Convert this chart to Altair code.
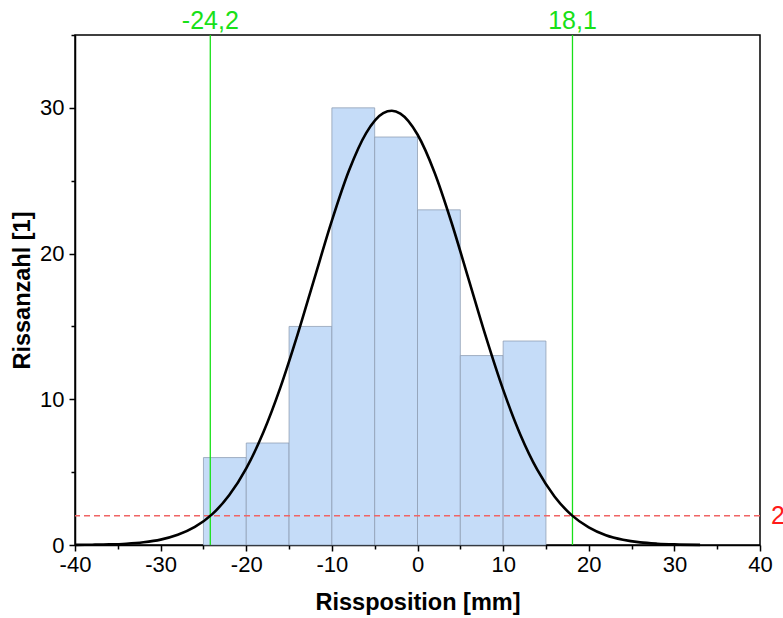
import altair as alt
import pandas as pd

# Histogram bins (start, end) and counts
bin_start = [-25, -20, -15, -10, -5, 0, 5, 10]
bin_end = [-20, -15, -10, -5, 0, 5, 10, 15]
counts = [6, 7, 15, 30, 28, 23, 13, 14]

# Fitted curve
curve_x = [-40, -38, -36, -34, -32, -30, -28, -26, -24, -22, -20, -18, -16, -14,
           -12, -10, -8, -6, -4, -3, -2, 0, 2, 4, 6, 8, 10, 12, 14, 16, 18, 20,
           22, 24, 26, 28, 30, 33]
curve_y = [0.01, 0.02, 0.04, 0.09, 0.19, 0.37, 0.70, 1.24, 2.10, 3.41, 5.26, 7.73,
           10.83, 14.45, 18.37, 22.26, 25.70, 28.27, 29.64, 29.8, 29.60, 28.17,
           25.55, 22.08, 18.18, 14.26, 10.66, 7.59, 5.15, 3.33, 2.05, 1.21, 0.67,
           0.36, 0.18, 0.09, 0.04, 0.01]

# Limit lines
limit_x = [-24.2, 18.1]
limit_labels = ["-24,2", "18,1"]
threshold_y = [2]
threshold_labels = ["2"]

# Axis ticks (every 5, labels every 10)
x_ticks = [-40, -35, -30, -25, -20, -15, -10, -5, 0, 5, 10, 15, 20, 25, 30, 35, 40]
y_ticks = [0, 5, 10, 15, 20, 25, 30, 35]

FONT = "Liberation Sans"

bars_df = pd.DataFrame({"start": bin_start, "end": bin_end, "count": counts,
                        "zero": [0] * len(counts)})
curve_df = pd.DataFrame({"x": curve_x, "y": curve_y})
limits_df = pd.DataFrame({"x": limit_x, "label": limit_labels})
thr_df = pd.DataFrame({"y": threshold_y, "label": threshold_labels})

xscale = alt.Scale(domain=[-40, 40], nice=False, zero=False)
yscale = alt.Scale(domain=[0, 35], nice=False)

tick_size = {"condition": {"test": "datum.value % 10 === 0", "value": 6}, "value": 4}
label_expr = "datum.value % 10 === 0 ? '' + datum.value : ''"

x_axis = alt.Axis(values=x_ticks, tickSize=tick_size, tickWidth=1.5, tickColor="black",
                  domainColor="black", domainWidth=1.5, labelFontSize=22,
                  labelFont=FONT, labelColor="black", labelPadding=3, grid=False,
                  labelExpr=label_expr, labelOverlap=False, labelFlush=False,
                  title="Rissposition [mm]", titleFont=FONT, titleFontSize=23.5,
                  titleFontWeight="bold", titleColor="black", titlePadding=15,
                  orient="bottom")
y_axis = alt.Axis(values=y_ticks, tickSize=tick_size, tickWidth=1.5, tickColor="black",
                  domainColor="black", domainWidth=1.5, labelFontSize=22,
                  labelFont=FONT, labelColor="black", labelPadding=5, grid=False,
                  labelExpr=label_expr, labelOverlap=False, labelFlush=False,
                  title="Rissanzahl [1]", titleFont=FONT, titleFontSize=23.5,
                  titleFontWeight="bold", titleColor="black", titlePadding=5,
                  orient="left")

bars = alt.Chart(bars_df).mark_rect(
    color="#c5dcf8", stroke="#8c9bb0", strokeOpacity=0.75, strokeWidth=1
).encode(
    x=alt.X("start:Q", scale=xscale, axis=x_axis),
    x2="end:Q",
    y=alt.Y("count:Q", scale=yscale, axis=y_axis),
    y2="zero:Q",
)

thr_rule = alt.Chart(thr_df).mark_rule(
    color="#f06464", strokeDash=[6, 4], strokeWidth=1.5
).encode(y=alt.Y("y:Q", scale=yscale, axis=y_axis))

thr_text = alt.Chart(thr_df).mark_text(
    align="left", baseline="middle", fontSize=25, font=FONT, color="#ff1a1a"
).encode(x=alt.value(696), y=alt.Y("y:Q", scale=yscale, axis=y_axis), text="label:N")

lim_rule = alt.Chart(limits_df).mark_rule(
    color="#18e018", strokeWidth=1.3
).encode(x=alt.X("x:Q", scale=xscale, axis=x_axis))

lim_text = alt.Chart(limits_df).mark_text(
    align="center", baseline="alphabetic", fontSize=25, font=FONT, color="#18e018"
).encode(x=alt.X("x:Q", scale=xscale, axis=x_axis), y=alt.value(-6), text="label:N")

curve = alt.Chart(curve_df).mark_line(
    color="black", strokeWidth=2.6, interpolate="monotone"
).encode(x=alt.X("x:Q", scale=xscale, axis=x_axis),
         y=alt.Y("y:Q", scale=yscale, axis=y_axis))

chart = alt.layer(
    bars, thr_rule, lim_rule, curve, lim_text, thr_text
).properties(
    width=685, height=510,
    autosize=alt.AutoSizeParams(type="none"),
    padding={"left": 75, "top": 35, "right": 23, "bottom": 73},
    background="white",
).configure_view(stroke="black", strokeWidth=1.5)

chart.save("out.html", embed_options={"renderer": "svg", "actions": False})
